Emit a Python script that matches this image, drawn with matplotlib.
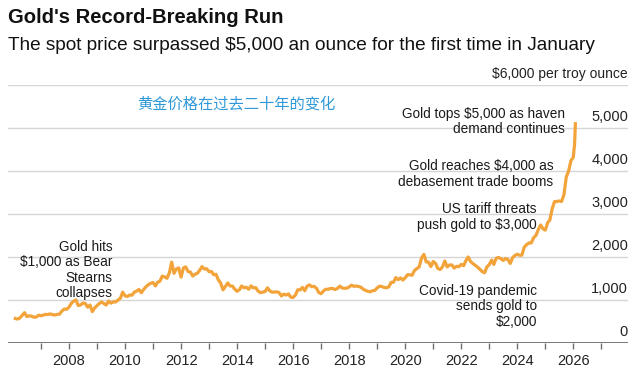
import matplotlib
matplotlib.use("Agg")
import matplotlib.pyplot as plt
import matplotlib.transforms as mtransforms
import numpy as np
import pandas as pd

# ---- data (approximate monthly spot prices, USD per troy ounce) ----
monthly_prices = [
    # 2006
    569, 556, 582, 644, 705, 614, 632, 623, 599, 604, 646, 632,
    # 2007
    650, 665, 662, 677, 659, 650, 665, 672, 743, 789, 783, 834,
    # 2008
    923, 971, 1000, 871, 885, 930, 918, 833, 884, 730, 814, 870,
    # 2009
    919, 952, 916, 883, 975, 926, 955, 955, 996, 1040, 1182, 1096,
    # 2010
    1081, 1116, 1112, 1179, 1207, 1244, 1169, 1246, 1307, 1357, 1387, 1405,
    # 2011
    1327, 1411, 1439, 1556, 1536, 1505, 1628, 1880, 1620, 1722, 1746, 1531,
    # 2012
    1744, 1770, 1662, 1651, 1558, 1598, 1622, 1692, 1776, 1719, 1726, 1657,
    # 2013
    1664, 1588, 1598, 1469, 1394, 1235, 1313, 1396, 1327, 1323, 1253, 1202,
    # 2014
    1240, 1326, 1284, 1296, 1250, 1327, 1282, 1287, 1208, 1171, 1182, 1199,
    # 2015
    1284, 1213, 1183, 1184, 1190, 1172, 1095, 1135, 1115, 1142, 1065, 1060,
    # 2016
    1118, 1238, 1233, 1293, 1215, 1322, 1351, 1309, 1316, 1272, 1173, 1146,
    # 2017
    1211, 1249, 1249, 1268, 1268, 1242, 1269, 1322, 1280, 1271, 1275, 1303,
    # 2018
    1345, 1318, 1325, 1315, 1299, 1253, 1224, 1201, 1192, 1215, 1222, 1282,
    # 2019
    1321, 1313, 1292, 1284, 1305, 1409, 1414, 1520, 1472, 1513, 1464, 1517,
    # 2020
    1589, 1585, 1577, 1686, 1730, 1768, 1975, 2060, 1886, 1879, 1777, 1895,
    # 2021
    1848, 1734, 1708, 1769, 1907, 1770, 1814, 1814, 1743, 1783, 1774, 1829,
    # 2022
    1797, 1909, 2000, 1897, 1848, 1807, 1766, 1711, 1661, 1633, 1768, 1824,
    # 2023
    1928, 1827, 1969, 1990, 1962, 1919, 1965, 1940, 1849, 1983, 2036, 2063,
    # 2024
    2039, 2044, 2230, 2286, 2327, 2326, 2447, 2503, 2634, 2744, 2657, 2625,
    # 2025
    2798, 2858, 3124, 3289, 3289, 3303, 3290, 3448, 3858, 4002, 4239, 4320,
]
jan2026_dates = ["2026-01-09", "2026-01-16", "2026-01-23", "2026-01-27"]
jan2026_prices = [4500, 4600, 4950, 5100]

year_ticks = [2008, 2010, 2012, 2014, 2016, 2018, 2020, 2022, 2024, 2026]
minor_years = [2007, 2009, 2011, 2013, 2015, 2017, 2019, 2021, 2023, 2025, 2027]
y_ticks = [0, 1000, 2000, 3000, 4000, 5000]
y_tick_labels = ["0", "1,000", "2,000", "3,000", "4,000", "5,000"]
y_top_label = "$6,000 per troy ounce"

title = "Gold's Record-Breaking Run"
subtitle = "The spot price surpassed $5,000 an ounce for the first time in January"
cn_note = "黄金价格在过去二十年的变化"

annotations = [
    ("Gold hits\n$1,000 as Bear\nStearns\ncollapses", 2009.54, 1700),
    ("Gold tops $5,000 as haven\ndemand continues", 2025.71, 5150),
    ("Gold reaches $4,000 as\ndebasement trade booms", 2025.29, 3930),
    ("US tariff threats\npush gold to $3,000", 2024.68, 2930),
    ("Covid-19 pandemic\nsends gold to\n$2,000", 2024.71, 850),
]

# ---- build series ----
m_dates = pd.date_range("2006-01-31", periods=len(monthly_prices), freq="ME")
dates = list(m_dates) + list(pd.to_datetime(jan2026_dates))
prices = monthly_prices + jan2026_prices


def to_year(d):
    d = pd.Timestamp(d)
    start = pd.Timestamp(year=d.year, month=1, day=1)
    end = pd.Timestamp(year=d.year + 1, month=1, day=1)
    return d.year + (d - start) / (end - start)


xs = np.array([to_year(d) for d in dates])
ys = np.array(prices, dtype=float)

# ---- figure ----
plt.rcParams["font.family"] = ["Liberation Sans", "DejaVu Sans"]
fig = plt.figure(figsize=(6.4, 3.8), dpi=100)
ax = fig.add_axes([0.0125, 0.0974, 0.9688, 0.6790])

ax.set_xlim(2005.82, 2027.95)
ax.set_ylim(0, 6000)

grid_color = "#d6d6d6"
for v in y_ticks[1:] + [6000]:
    ax.axhline(v, color=grid_color, lw=1.0, zorder=1)
ax.axhline(0, color="#6e6e6e", lw=1.3, zorder=3)

ax.plot(xs, ys, color="#F2A33A", lw=2.3, zorder=4, solid_joinstyle="round")

for s in ax.spines.values():
    s.set_visible(False)
ax.set_yticks([])
ax.set_xticks(year_ticks)
ax.set_xticklabels([str(y) for y in year_ticks], fontsize=10.5, color="#222222")
ax.set_xticks(minor_years, minor=True)
ax.tick_params(axis="x", which="both", direction="out", length=4, width=1,
               color="#6e6e6e", pad=4)

# y labels inside, right-aligned above gridlines
ytrans = mtransforms.blended_transform_factory(ax.transAxes, ax.transData)
off = mtransforms.ScaledTranslation(0, 3 / 72, fig.dpi_scale_trans)
for v, lab in zip(y_ticks, y_tick_labels):
    ax.text(1.0, v, lab, transform=ytrans + off, ha="right", va="bottom",
            fontsize=10.5, color="#222222")
ax.text(1.0, 6000, y_top_label, transform=ytrans + off, ha="right", va="bottom",
        fontsize=10, color="#222222")

for txt, x, y in annotations:
    ax.text(x, y, txt, ha="right", va="center", fontsize=9.8, color="#1a1a1a",
            linespacing=1.12, zorder=5)

ax.text(2013.96, 5560, cn_note, ha="center", va="center", fontsize=11,
        color="#2E98D8", family=["Noto Sans CJK SC", "DejaVu Sans"])

fig.text(0.0125, 0.953, title, ha="left", va="center", fontsize=14.6,
         fontweight="bold", color="#111111")
fig.text(0.0125, 0.880, subtitle, ha="left", va="center", fontsize=13.7,
         color="#111111")

fig.savefig("out.png", dpi=100)
